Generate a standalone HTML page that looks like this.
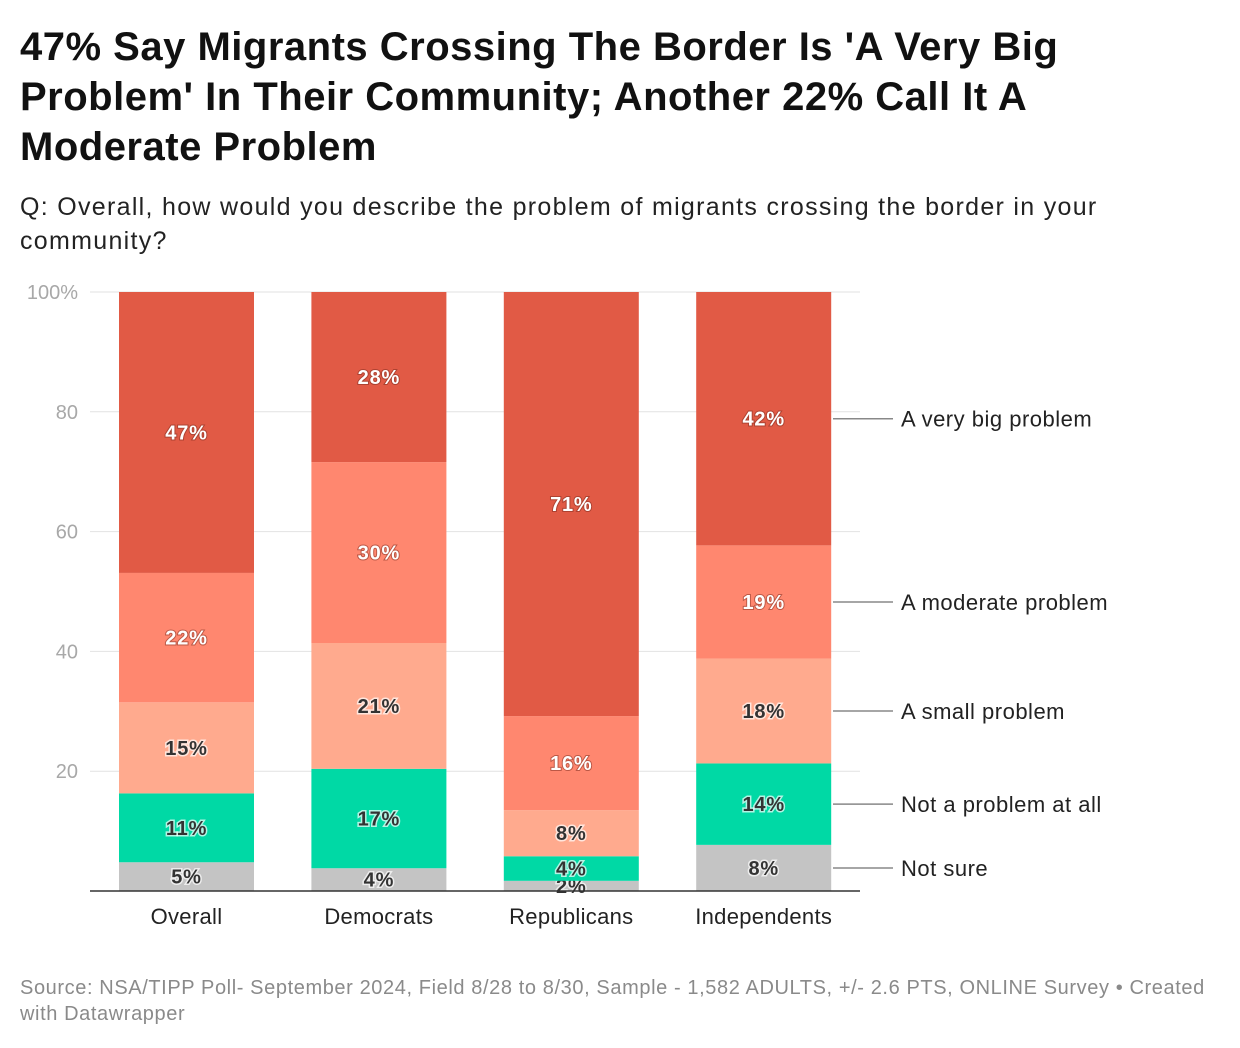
<!DOCTYPE html>
<html><head><meta charset="utf-8">
<style>
body{margin:0;background:#fff;font-family:"Liberation Sans",Arial,sans-serif;width:1240px;height:1048px;overflow:hidden;position:relative}
.t{position:absolute;left:20px;top:22px;font-size:40px;font-weight:bold;line-height:50px;color:#111;width:1200px;letter-spacing:0.5px;white-space:nowrap}
.s{position:absolute;left:20px;top:190px;font-size:25px;line-height:34px;color:#222;width:1200px;letter-spacing:1.3px;white-space:nowrap}
.f{position:absolute;left:20px;top:975px;font-size:20px;line-height:26px;color:#8a8a8a;width:1210px;letter-spacing:0.6px;white-space:nowrap}
svg{position:absolute;left:0;top:0}
</style></head><body>
<div class="t">47% Say Migrants Crossing The Border Is 'A Very Big<br>Problem' In Their Community; Another 22% Call It A<br>Moderate Problem</div>
<div class="s">Q: Overall, how would you describe the problem of migrants crossing the border in your<br>community?</div>
<div class="f">Source: NSA/TIPP Poll- September 2024, Field 8/28 to 8/30, Sample - 1,582 ADULTS, +/- 2.6 PTS, ONLINE Survey • Created<br>with Datawrapper</div>
<svg id="c" width="1240" height="1048"></svg>
<script>
const categories=["Overall","Democrats","Republicans","Independents"];
const seriesNames=["Not sure","Not a problem at all","A small problem","A moderate problem","A very big problem"];
const notSure=[4.8,3.8,1.7,7.7];
const notProblem=[11.5,16.6,4.1,13.6];
const smallProb=[15.2,21,7.7,17.5];
const moderateProb=[21.6,30.2,15.7,18.9];
const veryBig=[46.9,28.4,70.8,42.3];
const labels=[["5%","4%","2%","8%"],["11%","17%","4%","14%"],["15%","21%","8%","18%"],["22%","30%","16%","19%"],["47%","28%","71%","42%"]];
const yTicks=[0,20,40,60,80,100];
const yTickLabels=["","20","40","60","80","100%"];
const series=[notSure,notProblem,smallProb,moderateProb,veryBig];
const colors=["#c4c4c4","#00d9a5","#ffaa8e","#ff876f","#e15a45"];
const dark=[true,true,true,false,false];
const svg=document.getElementById('c');
const NS="http://www.w3.org/2000/svg";
const y=v=>891-v*5.99;
const x=i=>119+i*192.4;
const bw=135;
function el(t,a){const e=document.createElementNS(NS,t);for(const k in a)e.setAttribute(k,a[k]);svg.appendChild(e);return e;}
yTicks.forEach((v,i)=>{
 if(v>0){const g=el('line',{x1:90,x2:860,y1:y(v),y2:y(v),stroke:'#e2e2e2','stroke-width':1});
 
 }
 const t=el('text',{x:78,y:y(v)+7,'text-anchor':'end','font-size':20,fill:'#a8a8a8'});
 t.textContent=yTickLabels[i];
 
 
});
categories.forEach((c,i)=>{
 let cum=0;
 series.forEach((s,k)=>{
  const v=s[i];
  const r=el('rect',{x:x(i),y:y(cum+v),width:bw,height:v*5.99,fill:colors[k]});
  
  
  const mid=y(cum+v/2);
  const t=el('text',{x:x(i)+bw/2,y:mid+7,'text-anchor':'middle','font-size':20,'font-weight':'bold',
   fill:dark[k]?'#333':'#fff',stroke:dark[k]?'#fff':'#7a2a1e','stroke-width':dark[k]?3:2,'paint-order':'stroke','stroke-opacity':dark[k]?0.7:0.5,'letter-spacing':'0.8'});
  t.textContent=labels[k][i];
  
  
  if(i===3){
   const l=el('line',{x1:833,x2:893,y1:mid,y2:mid,stroke:'#888','stroke-width':1.5});
   
   
   const lt=el('text',{x:901,y:mid+8,'font-size':22,fill:'#222','letter-spacing':'0.5'});
   lt.textContent=seriesNames[k];
   
   
  }
  cum+=v;
 });
 const ct=el('text',{x:x(i)+bw/2,y:924,'text-anchor':'middle','font-size':22,fill:'#222','letter-spacing':'0.3'});
 ct.textContent=c;
 
 
});
const b=el('line',{x1:90,x2:860,y1:891,y2:891,stroke:'#333','stroke-width':1.5});


</script>
</body></html>
